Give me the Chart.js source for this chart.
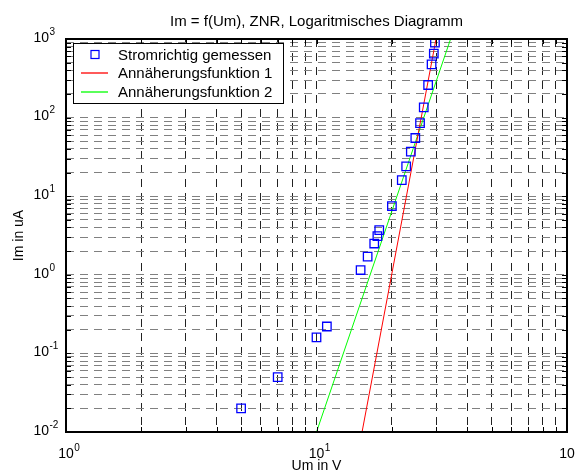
<!DOCTYPE html>
<html>
<head>
<meta charset="utf-8">
<title>Im = f(Um), ZNR</title>
<script src="https://cdn.jsdelivr.net/npm/chart.js@4.4.0/dist/chart.umd.min.js"></script>
<style>
  html, body { margin: 0; padding: 0; background: #fff; }
  #wrap { width: 575px; height: 475px; position: relative; }
</style>
</head>
<body>
<div id="wrap"><canvas id="myChart"></canvas></div>
<script>
// Messwerte (stromrichtig gemessen), Um in V / Im in uA
const umMess = [5, 7, 10, 11, 15, 16, 17, 17.5, 17.8, 20, 21.9, 22.8, 23.8, 24.8, 25.9, 26.8, 27.9, 28.8, 29.4, 29.7];
const imMess = [0.02, 0.05, 0.16, 0.22, 1.15, 1.7, 2.5, 3.1, 3.7, 7.5, 16, 24, 37, 55, 85, 135, 260, 475, 650, 900];

// Annäherungsfunktion 1 (rot)
const umFit1 = [15.2, 30];
const imFit1 = [0.01, 1000];

// Annäherungsfunktion 2 (grün)
const umFit2 = [10, 34.3];
const imFit2 = [0.01, 1000];

// Gitter / Ticks
const xTicks = [1, 2, 3, 4, 5, 6, 7, 8, 9, 10, 20, 30, 40, 50, 60, 70, 80, 90, 100];
const yTicks = [0.01, 0.02, 0.03, 0.04, 0.05, 0.06, 0.07, 0.08, 0.09,
  0.1, 0.2, 0.3, 0.4, 0.5, 0.6, 0.7, 0.8, 0.9,
  1, 2, 3, 4, 5, 6, 7, 8, 9,
  10, 20, 30, 40, 50, 60, 70, 80, 90,
  100, 200, 300, 400, 500, 600, 700, 800, 900, 1000];
const xLabelExp = [0, 1, 2];
const yLabelExp = [-2, -1, 0, 1, 2, 3];

const titleText = "Im = f(Um), ZNR, Logaritmisches Diagramm";
const xTitle = "Um in V";
const yTitle = "Im in uA";

function toPoints(xs, ys) {
  return xs.map((v, i) => ({ x: v, y: ys[i] }));
}

// draw "10" with superscript exponent
function drawPow(ctx, x, y, exp, align) {
  ctx.font = "14px 'Liberation Sans', Arial, sans-serif";
  const baseW = ctx.measureText("10").width;
  ctx.textBaseline = "middle";
  ctx.textAlign = "left";
  let bx = x;
  if (align === "center") bx = x - baseW / 2;
  if (align === "right") bx = x - baseW;
  ctx.fillText("10", bx, y);
  ctx.font = "10px 'Liberation Sans', Arial, sans-serif";
  ctx.fillText(String(exp), bx + baseW + 0.5, y - 6);
}

const framePlugin = {
  id: "framePlugin",
  afterDraw(chart) {
    const { ctx, chartArea: a, scales: { x, y } } = chart;
    ctx.save();
    ctx.fillStyle = "#000";
    ctx.strokeStyle = "#000";

    // inner tick marks
    ctx.lineWidth = 1;
    ctx.beginPath();
    xTicks.forEach((v) => {
      const px = Math.round(x.getPixelForValue(v)) + 0.5;
      ctx.moveTo(px, a.bottom); ctx.lineTo(px, a.bottom - 5);
      ctx.moveTo(px, a.top); ctx.lineTo(px, a.top + 5);
    });
    yTicks.forEach((v) => {
      const py = Math.round(y.getPixelForValue(v)) + 0.5;
      ctx.moveTo(a.left, py); ctx.lineTo(a.left + 5, py);
      ctx.moveTo(a.right, py); ctx.lineTo(a.right - 5, py);
    });
    ctx.stroke();

    // box
    ctx.lineWidth = 2;
    ctx.strokeRect(a.left, a.top, a.right - a.left, a.bottom - a.top);

    // tick labels
    xLabelExp.forEach((e) => {
      drawPow(ctx, x.getPixelForValue(Math.pow(10, e)), a.bottom + 22, e, "center");
    });
    yLabelExp.forEach((e) => {
      drawPow(ctx, 49, y.getPixelForValue(Math.pow(10, e)) - 1, e, "right");
    });

    // titles
    ctx.font = "15px 'Liberation Sans', Arial, sans-serif";
    ctx.textAlign = "center";
    ctx.textBaseline = "alphabetic";
    ctx.fillText(titleText, (a.left + a.right) / 2, 26);
    ctx.font = "14px 'Liberation Sans', Arial, sans-serif";
    ctx.fillText(xTitle, (a.left + a.right) / 2, 470);
    ctx.save();
    ctx.translate(23, (a.top + a.bottom) / 2);
    ctx.rotate(-Math.PI / 2);
    ctx.fillText(yTitle, 0, 0);
    ctx.restore();

    // legend
    const lx = 73, ly = 43, lw = 210, lh = 60;
    ctx.fillStyle = "#fff";
    ctx.fillRect(lx, ly, lw, lh);
    ctx.lineWidth = 1;
    ctx.strokeStyle = "#000";
    ctx.strokeRect(lx + 0.5, ly + 0.5, lw, lh);
    const rows = [54.5, 73, 91.5];
    chart.data.datasets.forEach((ds, i) => {
      const ry = rows[i];
      ctx.strokeStyle = ds.borderColor;
      if (ds.showLine) {
        ctx.lineWidth = 1.3;
        ctx.beginPath();
        ctx.moveTo(81, Math.round(ry));
        ctx.lineTo(108, Math.round(ry));
        ctx.stroke();
      } else {
        ctx.lineWidth = 1.2;
        ctx.strokeRect(91, ry - 4, 8, 8);
      }
      ctx.fillStyle = "#000";
      ctx.font = "15px 'Liberation Sans', Arial, sans-serif";
      ctx.textAlign = "left";
      ctx.textBaseline = "middle";
      ctx.fillText(ds.label, 118, ry + 1);
    });
    ctx.restore();
  }
};

const ctx = document.getElementById("myChart");

const myChart = new Chart(ctx, {
  type: "scatter",
  data: {
    datasets: [
      {
        label: "Stromrichtig gemessen",
        data: toPoints(umMess, imMess),
        showLine: false,
        pointStyle: "rect",
        pointRadius: 6,
        pointHoverRadius: 6,
        borderColor: "#0000ff",
        backgroundColor: "rgba(0,0,0,0)",
        borderWidth: 1.3,
      },
      {
        label: "Annäherungsfunktion 1",
        data: toPoints(umFit1, imFit1),
        showLine: true,
        pointRadius: 0,
        borderColor: "#ff0000",
        borderWidth: 1,
      },
      {
        label: "Annäherungsfunktion 2",
        data: toPoints(umFit2, imFit2),
        showLine: true,
        pointRadius: 0,
        borderColor: "#00ff00",
        borderWidth: 1,
      },
    ],
  },
  options: {
    responsive: true,
    maintainAspectRatio: false,
    animation: false,
    layout: { padding: { left: 66, right: 8, top: 39, bottom: 43 } },
    plugins: {
      legend: { display: false },
      tooltip: { enabled: false },
    },
    scales: {
      x: {
        type: "logarithmic",
        min: 1,
        max: 100,
        afterBuildTicks: (scale) => { scale.ticks = xTicks.map((v) => ({ value: v })); },
        ticks: { display: false, autoSkip: false },
        grid: { color: "#222", lineWidth: 1, drawTicks: false },
        border: { display: false, dash: [8, 6] },
      },
      y: {
        type: "logarithmic",
        min: 0.01,
        max: 1000,
        afterBuildTicks: (scale) => { scale.ticks = yTicks.map((v) => ({ value: v })); },
        ticks: { display: false, autoSkip: false },
        grid: { color: "#808080", lineWidth: 1, drawTicks: false },
        border: { display: false, dash: [8, 6] },
      },
    },
  },
  plugins: [framePlugin],
});
</script>
</body>
</html>
